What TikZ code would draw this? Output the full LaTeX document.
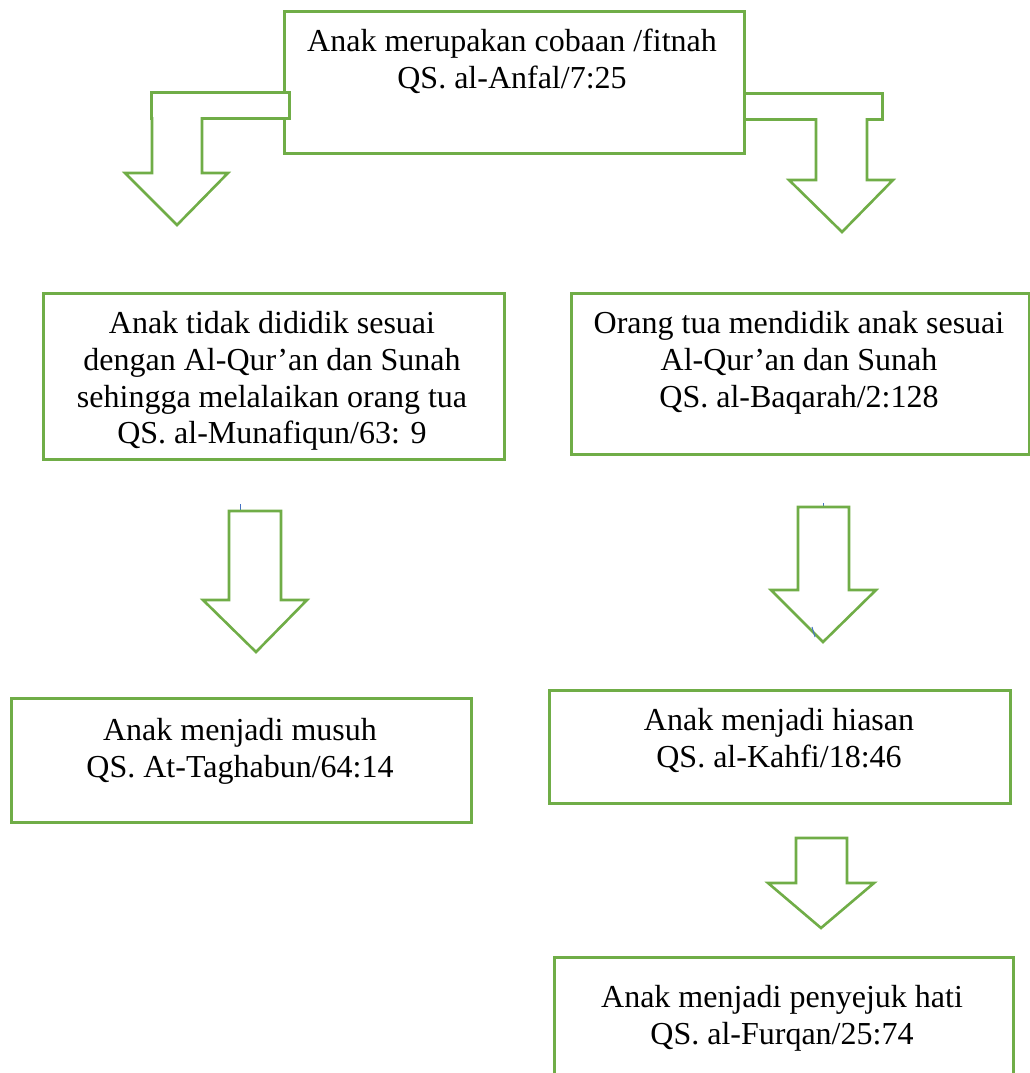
\documentclass[tikz,border=0pt]{standalone}
\usepackage{fontspec}
\setmainfont{Liberation Serif}
\definecolor{grn}{HTML}{70AD47}
\definecolor{tickblue}{HTML}{4472C4}
\tikzset{
  boxline/.style={draw=grn, line width=2.6pt, fill=white},
  framebox/.style={boxline, rectangle, inner sep=0pt, anchor=north west},
  txt/.style={inner sep=0pt, anchor=north, align=center, font=\fontsize{32}{36.8}\selectfont},
  arrowshape/.style={draw=grn, line width=2.6pt, fill=white, line join=miter},
  tick/.style={draw=tickblue, line width=1pt}
}
\begin{document}
\begin{tikzpicture}[x=1pt,y=-1pt]
\useasboundingbox (0,0) rectangle (1030,1073);
% top box
\node[framebox, minimum width=460pt, minimum height=142pt] (top) at (283,10) {};
\node[txt] (toptxt) at (512,29) {Anak merupakan cobaan /fitnah\\QS. al-Anfal/7:25};
% bent arrow bars
\node[framebox, minimum width=138pt, minimum height=26pt] (barL) at (150,91) {};
\node[framebox, minimum width=138pt, minimum height=26pt] (barR) at (743,92) {};
% down arrows
\draw[arrowshape] (152,117) -- (152,173) -- (125,173) -- (177,225) -- (228,173) -- (202,173) -- (202,117);
\draw[arrowshape] (816,118) -- (816,180) -- (789,180) -- (842,232) -- (893,180) -- (867,180) -- (867,118);
% middle boxes
\node[framebox, minimum width=461pt, minimum height=166pt] (lm) at (42,292) {};
\node[txt] (lmtxt) at (272,311) {Anak tidak dididik sesuai\\dengan Al-Qur’an dan Sunah\\sehingga melalaikan orang tua\\QS. al-Munafiqun/63: 9};
\node[framebox, minimum width=458pt, minimum height=161pt] (rm) at (570,292) {};
\node[txt] (rmtxt) at (799,311) {Orang tua mendidik anak sesuai\\Al-Qur’an dan Sunah\\QS. al-Baqarah/2:128};
% second arrows
\draw[tick] (240,504) -- (240,511);
\draw[arrowshape] (229,511) -- (229,600) -- (203,600) -- (256,652) -- (307,600) -- (281,600) -- (281,511) -- cycle;
\draw[tick] (823,503) -- (823,507);
\draw[arrowshape] (798,507) -- (798,590) -- (771,590) -- (823,642) -- (876,590) -- (849,590) -- (849,507) -- cycle;
\draw[tick] (812,627) -- (815,637);
% bottom boxes
\node[framebox, minimum width=460pt, minimum height=124pt] (lb) at (10,697) {};
\node[txt] (lbtxt) at (240,718) {Anak menjadi musuh\\QS. At-Taghabun/64:14};
\node[framebox, minimum width=461pt, minimum height=113pt] (rb) at (548,689) {};
\node[txt] (rbtxt) at (779,708) {Anak menjadi hiasan\\QS. al-Kahfi/18:46};
% third arrow
\draw[arrowshape] (796,838) -- (796,883) -- (768,883) -- (821,928) -- (874,883) -- (847,883) -- (847,838) -- cycle;
% last box
\node[framebox, minimum width=459pt, minimum height=140pt] (last) at (553,956) {};
\node[txt] (lasttxt) at (782,985) {Anak menjadi penyejuk hati\\QS. al-Furqan/25:74};
\end{tikzpicture}
\end{document}
